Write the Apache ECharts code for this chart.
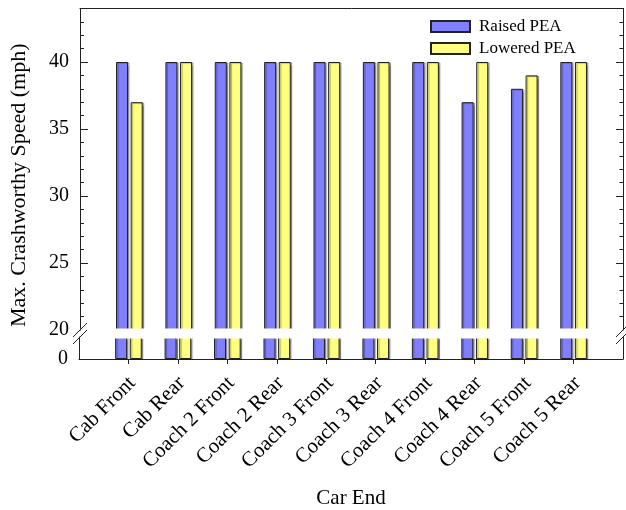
<!DOCTYPE html>
<html><head><meta charset="utf-8">
<script src="https://cdn.jsdelivr.net/npm/echarts@6/dist/echarts.min.js"></script>
<style>html,body{margin:0;padding:0;background:#fff}#c{width:626px;height:510px}</style>
</head><body><div id="c"></div>
<script>
const categories = ['Cab Front','Cab Rear','Coach 2 Front','Coach 2 Rear','Coach 3 Front','Coach 3 Rear','Coach 4 Front','Coach 4 Rear','Coach 5 Front','Coach 5 Rear'];
const raisedPEA = [40,40,40,40,40,40,40,37,38,40];
const loweredPEA = [37,40,40,40,40,40,40,40,39,40];
const majorTicks = [20,25,30,35,40];
const minorTicks = [21,22,23,24,26,27,28,29,31,32,33,34,36,37,38,39,41,42,43];
const lowerTicks = [0];

const FONT = 'Liberation Serif';
const AX = '#222';
const positions = categories.map((c,i)=>i+1);
const chart = echarts.init(document.getElementById('c'), null, {renderer:'canvas'});

const barStyle = (color)=>({color:color, borderColor:'#222', borderWidth:1,
  shadowColor:'rgba(0,0,0,0.35)', shadowOffsetX:1.5, shadowOffsetY:0.5, shadowBlur:1});

function mk(name, vals, color, gi){
  return {name:name, type:'bar', xAxisIndex:gi, yAxisIndex: gi===0?0:4,
    barWidth:12, barGap:'22%', itemStyle:barStyle(color), emphasis:{disabled:true},
    data: vals.map((v,i)=>[positions[i], v]), animation:false};
}

const option = {
  animation:false,
  textStyle:{fontFamily:FONT, color:'#000'},
  grid:[
    {left:79, right:3, top:8.4, bottom:180, containLabel:false},
    {left:79, right:3, top:337, bottom:151, containLabel:false}
  ],
  legend:{
    data:['Raised PEA','Lowered PEA'], orient:'vertical', left:430, top:18, padding:0,
    itemWidth:39, itemHeight:11, itemGap:5, icon:'rect',
    textStyle:{fontFamily:FONT, fontSize:17, color:'#000', padding:[0,0,0,4]},
    selectedMode:false
  },
  xAxis:[
    {gridIndex:0, type:'value', position:'top', min:0, max:11,
     axisLine:{show:true, lineStyle:{color:AX, width:1}}, axisTick:{show:false},
     axisLabel:{show:false}, splitLine:{show:false}},
    {gridIndex:1, type:'value', position:'bottom', min:0, max:11,
     name:'Car End', nameLocation:'middle', nameGap:129,
     nameTextStyle:{fontFamily:FONT, fontSize:21, color:'#000'},
     axisLine:{show:true, lineStyle:{color:AX, width:1}},
     axisTick:{show:true, inside:false, length:5, lineStyle:{color:AX}, customValues:positions},
     axisLabel:{show:true, rotate:45, margin:10, verticalAlign:'top', padding:[0,5,0,0],
       fontFamily:FONT, fontSize:21, color:'#000',
       customValues:positions, formatter:(v)=>categories[Math.round(v)-1]||''},
     splitLine:{show:false}}
  ],
  yAxis:[
    {gridIndex:0, type:'value', position:'left', min:20, max:44,
     name:'Max. Crashworthy Speed (mph)', nameLocation:'middle', nameGap:50,
     nameTextStyle:{fontFamily:FONT, fontSize:22, color:'#000', padding:[0,32,0,0]},
     axisLine:{show:true, lineStyle:{color:AX}},
     axisTick:{show:true, inside:true, length:8, lineStyle:{color:AX}, customValues:majorTicks},
     axisLabel:{show:true, fontFamily:FONT, fontSize:20, color:'#000', margin:11, customValues:majorTicks},
     splitLine:{show:false}},
    {gridIndex:0, type:'value', position:'left', min:20, max:44,
     axisLine:{show:false},
     axisTick:{show:true, inside:true, length:4, lineStyle:{color:AX}, customValues:minorTicks},
     axisLabel:{show:false}, splitLine:{show:false}},
    {gridIndex:0, type:'value', position:'right', min:20, max:44,
     axisLine:{show:true, lineStyle:{color:AX}},
     axisTick:{show:true, inside:true, length:7, lineStyle:{color:AX}, customValues:majorTicks},
     axisLabel:{show:false}, splitLine:{show:false}},
    {gridIndex:0, type:'value', position:'right', min:20, max:44,
     axisLine:{show:false},
     axisTick:{show:true, inside:true, length:3.5, lineStyle:{color:AX}, customValues:minorTicks},
     axisLabel:{show:false}, splitLine:{show:false}},
    {gridIndex:1, type:'value', position:'left', min:0, max:20,
     axisLine:{show:true, lineStyle:{color:AX}}, axisTick:{show:false},
     axisLabel:{show:true, fontFamily:FONT, fontSize:20, color:'#000', margin:11, customValues:lowerTicks},
     splitLine:{show:false}},
    {gridIndex:1, type:'value', position:'right', min:0, max:20,
     axisLine:{show:true, lineStyle:{color:AX}}, axisTick:{show:false},
     axisLabel:{show:false}, splitLine:{show:false}}
  ],
  series:[
    mk('Raised PEA', raisedPEA, '#8080ff', 0),
    mk('Lowered PEA', loweredPEA, '#ffff80', 0),
    mk('Raised PEA', raisedPEA, '#8080ff', 1),
    mk('Lowered PEA', loweredPEA, '#ffff80', 1)
  ]
};
chart.setOption(option);

// axis-break decoration
const topBreak = chart.convertToPixel({gridIndex:0}, [0, 20]);
const botBreak = chart.convertToPixel({gridIndex:1}, [0, 20]);
const xL = chart.convertToPixel({gridIndex:0}, [0, 20])[0];
const xR = chart.convertToPixel({gridIndex:0}, [11, 20])[0];
const yA = topBreak[1], yB = botBreak[1];
const g = [{type:'rect', z:100, shape:{x:xL+0.5, y:yA-1.5, width:xR-xL-1, height:yB-yA+3}, style:{fill:'#fff'}}];
[xL, xR].forEach(x=>{
  [yA, yB].forEach(y=>{
    g.push({type:'line', z:101, shape:{x1:x-7, y1:y+7, x2:x+7, y2:y-7}, style:{stroke:AX, lineWidth:1}});
  });
  g.push({type:'rect', z:100, shape:{x:x-2, y:yA+1, width:4, height:yB-yA-2}, style:{fill:'#fff'}});
});
chart.setOption({graphic:g});
</script></body></html>
